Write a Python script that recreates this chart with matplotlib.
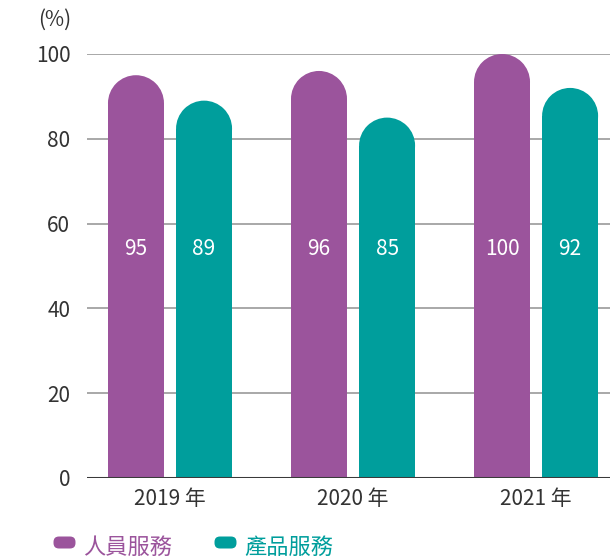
import matplotlib
matplotlib.use("Agg")
import matplotlib.pyplot as plt
from matplotlib.patches import Rectangle, Ellipse, FancyBboxPatch
import numpy as np

plt.rcParams['font.family'] = ['Noto Sans CJK TC', 'DejaVu Sans']

years = ['2019 年', '2020 年', '2021 年']
series_names = ['人員服務', '產品服務']
people = [95, 96, 100]
product = [89, 85, 92]
colors = ['#9b549c', '#009e9c']
label_y = 54

W, H = 610, 558
fig = plt.figure(figsize=(W / 100, H / 100), dpi=100)
ax = fig.add_axes([87 / W, (H - 478) / H, (W - 87) / W, 424 / H])

ax.set_xlim(-0.4536, 2.404)
ax.set_ylim(0, 100)

for s in ax.spines.values():
    s.set_visible(False)

ax.set_yticks([0, 20, 40, 60, 80, 100])
ax.tick_params(axis='y', length=0, pad=12, labelsize=15, labelcolor='#333333')
ax.tick_params(axis='x', length=0, pad=7, labelsize=15, labelcolor='#333333')
ax.set_xticks(range(len(years)))
ax.set_xticklabels(years)

for yv in [20, 40, 60, 80, 100]:
    ax.axhline(yv, color='#999999', lw=1.2, zorder=1)
ax.axhline(0, color='#3a3a3a', lw=2.2, zorder=5)

bw = 0.306
off = 0.186
# radius of rounded top in data units so the cap looks circular
p0 = ax.transData.transform((0, 0))
p1 = ax.transData.transform((bw, 1))
r = (p1[0] - p0[0]) / 2 / (p1[1] - p0[1])

x = np.arange(len(years))
for vals, c, d in [(people, colors[0], -off), (product, colors[1], off)]:
    for xi, v in zip(x, vals):
        cx = xi + d
        ax.add_patch(Rectangle((cx - bw / 2, 0), bw, v - r, color=c, lw=0, zorder=3, clip_on=False))
        ax.add_patch(Ellipse((cx, v - r), bw, 2 * r, color=c, lw=0, zorder=3, clip_on=False))
        ax.text(cx, label_y, str(v), color='white', ha='center', va='center', fontsize=15, zorder=6)

fig.text(55 / W, 1 - 20 / H, '(%)', ha='center', va='center', fontsize=15, color='#333333')

# legend
lax = fig.add_axes([0, 0, 1, 1], facecolor='none')
lax.set_xlim(0, W)
lax.set_ylim(H, 0)
lax.axis('off')
for name, c, lx in [(series_names[0], colors[0], 53), (series_names[1], colors[1], 214)]:
    lax.add_patch(FancyBboxPatch((lx + 6, 542), 11, 1, boxstyle='round,pad=5.5',
                                 facecolor=c, edgecolor='none', mutation_aspect=1))
    lax.text(lx + 30, 547, name, color=c, fontsize=16, ha='left', va='center')

fig.savefig('out.png', dpi=100)
